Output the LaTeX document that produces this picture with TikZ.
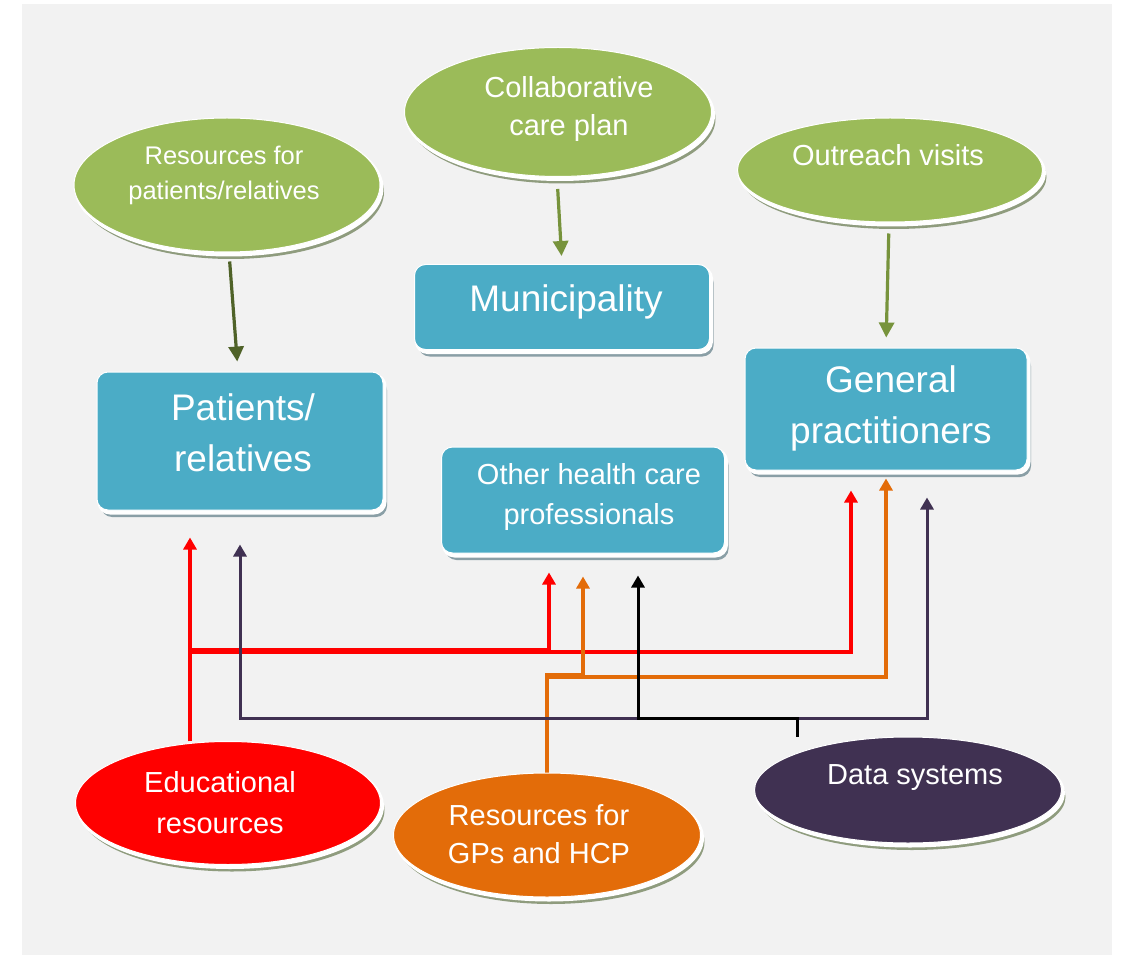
\documentclass[tikz,border=0pt]{standalone}
\usepackage{fontspec}
\setmainfont{Liberation Sans}
\usetikzlibrary{shapes.geometric,arrows.meta}
\definecolor{bggray}{HTML}{F2F2F2}
\definecolor{ellgreen}{HTML}{9BBB59}
\definecolor{boxblue}{HTML}{4BACC6}
\definecolor{arrdark}{HTML}{4F6228}
\definecolor{arrgreen}{HTML}{77933C}
\definecolor{edured}{HTML}{FF0000}
\definecolor{resorange}{HTML}{E36C09}
\definecolor{datapurple}{HTML}{403152}
\definecolor{shgreen}{HTML}{8F9C7E}
\definecolor{shblue}{HTML}{8A9FA6}
\newcommand\fsz[2]{\fontsize{#1}{#2}\selectfont}
\pgfdeclarelayer{bglayer}
\pgfdeclarelayer{wires}
\pgfsetlayers{bglayer,wires,main}
\begin{document}
\begin{tikzpicture}[x=1pt,y=-1pt,
  oval/.style={ellipse, inner sep=0pt, fill=#1, draw=white, line width=1pt,
    preaction={fill=shgreen, draw=none, transform canvas={xshift=4pt,yshift=-7pt}},
    preaction={fill=white, draw=white, line width=3pt, transform canvas={xshift=2pt,yshift=-3pt}}},
  card/.style={rectangle, rounded corners=11pt, inner sep=0pt, fill=boxblue, draw=white, line width=1pt,
    preaction={fill=shblue, draw=none, transform canvas={xshift=4pt,yshift=-7pt}},
    preaction={fill=white, draw=white, line width=3pt, transform canvas={xshift=2pt,yshift=-3pt}}},
  lbl/.style={text=white, align=center, inner sep=0pt, fill=none, draw=none},
  garrow/.style={line width=3.2pt, -{Triangle[length=15pt,width=15pt]}},
  carrow/.style={line width=3.4pt, -{Triangle[length=12pt,width=13pt]}},
  parrow/.style={line width=3pt, -{Triangle[length=12pt,width=13pt]}},
]
\useasboundingbox (0,0) rectangle (1121,957);
\begin{pgfonlayer}{bglayer}
  \fill[white] (0,0) rectangle (1121,957);
  \fill[bggray] (22,4) rectangle (1112,955);
\end{pgfonlayer}

% top ellipses
\node[oval=ellgreen, minimum width=306pt, minimum height=134pt,
  label={[lbl,font=\fsz{25.5}{35},xshift=-3pt,yshift=10pt]center:{Resources for\\patients/relatives}}] (resP) at (227,185) {};
\node[oval=ellgreen, minimum width=307pt, minimum height=129pt,
  label={[lbl,font=\fsz{29}{38},xshift=11pt,yshift=3pt]center:{Collaborative\\care plan}}] (collab) at (558,112) {};
\node[oval=ellgreen, minimum width=305pt, minimum height=104pt,
  label={[lbl,font=\fsz{29}{38},xshift=-2pt,yshift=15pt]center:{Outreach visits}}] (outreach) at (890,170) {};

% boxes
\node[card, minimum width=295pt, minimum height=85pt,
  label={[lbl,font=\fsz{37}{51},xshift=4pt,yshift=5pt]center:{Municipality}}] (muni) at (562,307) {};
\node[card, minimum width=282pt, minimum height=122pt,
  label={[lbl,font=\fsz{37}{51},xshift=5pt,yshift=1pt]center:{General\\practitioners}}] (gp) at (886,409) {};
\node[card, minimum width=286pt, minimum height=138pt,
  label={[lbl,font=\fsz{37}{51},xshift=3pt,yshift=8pt]center:{Patients/\\relatives}}] (pat) at (240,441) {};
\node[card, minimum width=283pt, minimum height=106pt,
  label={[lbl,font=\fsz{29}{40},xshift=6pt,yshift=3pt]center:{Other health care\\professionals}}] (hcp) at (583,500) {};

% bottom ellipses
\node[oval=edured, minimum width=305pt, minimum height=123pt,
  label={[lbl,font=\fsz{29}{41},xshift=-8pt,yshift=0pt]center:{Educational\\resources}}] (edu) at (228,803) {};
\node[oval=resorange, minimum width=307pt, minimum height=124pt,
  label={[lbl,font=\fsz{29}{38},xshift=-8pt,yshift=1pt]center:{Resources for\\GPs and HCP}}] (gpres) at (547,835) {};
\node[oval=datapurple, minimum width=307pt, minimum height=106pt,
  label={[lbl,font=\fsz{29}{38},xshift=7pt,yshift=12pt]center:{Data systems}}] (data) at (908,790) {};

% green arrows
\draw[garrow, color=arrdark, shorten <=9pt, shorten >=10pt] ([xshift=2pt]resP.south) -- ([xshift=-2pt]pat.north);
\draw[garrow, color=arrgreen, shorten <=12pt, shorten >=8pt] ([xshift=-1pt]collab.south) -- (muni.north);
\draw[garrow, color=arrgreen, shorten <=11pt, shorten >=10pt] ([xshift=-1pt]outreach.south) -- (gp.north);

% junctions
\coordinate (rA) at (549,650);
\coordinate (rB) at (851,652);
\coordinate (oA) at (583,675);
\coordinate (oB) at (886,677);
\coordinate (pA) at (240,718);
\coordinate (pB) at (927,718);
\coordinate (kA) at (638,718);

\begin{pgfonlayer}{wires}
  \draw[carrow, color=edured, shorten >=27pt] ([xshift=-38pt]edu.north) -- ([xshift=-50pt]pat.south);
  \draw[carrow, color=edured, shorten >=19pt] ([xshift=-38pt]edu.north) |- (rA) -- ([xshift=-34pt]hcp.south);
  \draw[carrow, color=edured, shorten >=20pt] ([xshift=-38pt]edu.north) |- (rB) -- ([xshift=-35pt]gp.south);
  \draw[carrow, color=resorange, shorten >=23pt] (gpres.north) |- (oA) -- (hcp.south);
  \draw[carrow, color=resorange, shorten >=8pt] (gpres.north) |- (oB) -- (gp.south);
  \draw[parrow, color=datapurple, shorten >=34pt] ([xshift=-111pt]data.north) |- (pA) -- (pat.south);
  \draw[parrow, color=datapurple, shorten >=27pt] ([xshift=-111pt]data.north) |- (pB) -- ([xshift=41pt]gp.south);
  \draw[parrow, color=black, shorten >=22pt] ([xshift=-111pt]data.north) |- (kA) -- ([xshift=55pt]hcp.south);
\end{pgfonlayer}
\end{tikzpicture}
\end{document}
